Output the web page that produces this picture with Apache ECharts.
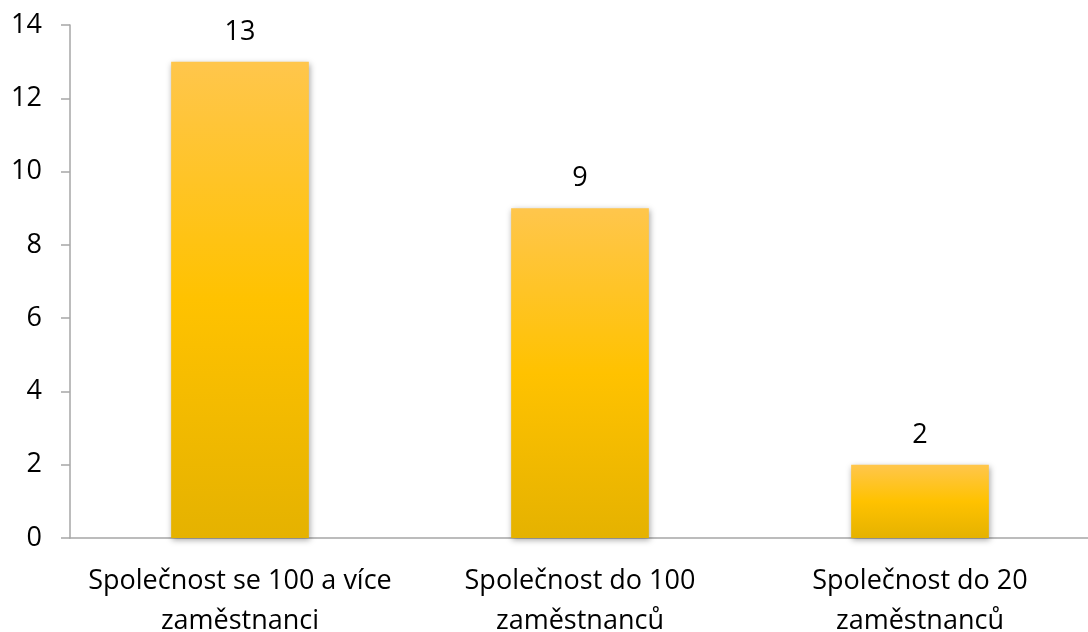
<!DOCTYPE html>
<html>
<head>
<meta charset="utf-8">
<script src="https://cdn.jsdelivr.net/npm/echarts@6/dist/echarts.min.js"></script>
<style>
  html, body { margin: 0; padding: 0; background: #fff; }
  #chart { width: 1088px; height: 632px; }
</style>
</head>
<body>
<div id="chart"></div>
<script>
// kategorie a hodnoty
const categories = ['Společnost se 100 a více\nzaměstnanci', 'Společnost do 100\nzaměstnanců', 'Společnost do 20\nzaměstnanců']
const values = [13, 9, 2]

const chart = echarts.init(document.getElementById('chart'))
const axisColor = '#A6A6A6'
const font = 'Open Sans, Noto Sans, sans-serif'

chart.setOption({
  animation: false,
  grid: {
    left: 70,
    right: -2,
    top: 25,
    bottom: 94,
    outerBoundsMode: 'none'
  },
  xAxis: {
    type: 'category',
    data: categories,
    axisLine: { lineStyle: { color: axisColor, width: 1.5 } },
    axisTick: { length: 9, lineStyle: { color: axisColor, width: 1.5 } },
    axisLabel: {
      interval: 0,
      hideOverlap: false,
      color: '#000',
      fontSize: 27,
      fontFamily: font,
      lineHeight: 40,
      margin: 23
    }
  },
  yAxis: {
    type: 'value',
    min: 0,
    max: 14,
    interval: 2,
    splitLine: { show: false },
    axisLine: { show: true, lineStyle: { color: axisColor, width: 1.5 } },
    axisTick: { show: true, length: 9, lineStyle: { color: axisColor, width: 1.5 } },
    axisLabel: {
      color: '#000',
      fontSize: 27,
      fontFamily: font,
      margin: 28
    }
  },
  series: [{
    type: 'bar',
    data: values,
    barWidth: '40.5%',
    label: {
      show: true,
      position: 'top',
      distance: 16,
      color: '#000',
      fontSize: 27,
      fontFamily: font
    },
    itemStyle: {
      // svislý přechod jako v originále
      color: new echarts.graphic.LinearGradient(0, 0, 0, 1, [
        { offset: 0, color: '#FFC64C' },
        { offset: 0.5, color: '#FFC200' },
        { offset: 1, color: '#E5B200' }
      ]),
      shadowColor: 'rgba(0,0,0,0.35)',
      shadowBlur: 6,
      shadowOffsetX: 1,
      shadowOffsetY: 2
    }
  }]
})
</script>
</body>
</html>
